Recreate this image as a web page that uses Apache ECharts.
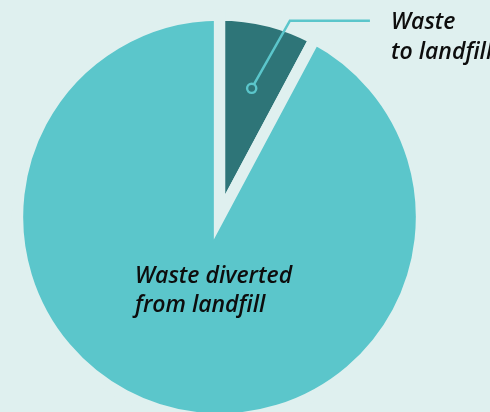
<!DOCTYPE html>
<html>
<head>
<meta charset="utf-8">
<script src="https://cdn.jsdelivr.net/npm/echarts@6/dist/echarts.min.js"></script>
<style>
  html, body { margin: 0; padding: 0; background: #dff0ef; }
  #chart { width: 490px; height: 412px; }
</style>
</head>
<body>
<div id="chart"></div>
<script>
// Share of waste by destination (%)
const categories = ['Waste to landfill', 'Waste diverted from landfill'];
const shares = [7.8, 92.2];
const labelLines = [['Waste', 'to landfill'], ['Waste diverted', 'from landfill']];
const sliceColors = ['#2e7578', '#5bc6cb'];

const BG = '#dff0ef';
const ACCENT = '#5bc6cb';
const GAP = 11.3;            // width of the separating gap between slices
const CX = 219.5, CY = 217;  // pie centre
const R_VISIBLE = 196.3;     // radius of the visible disc

const labelAnchors = [
  { x: 391, y: 8 },
  { x: 135, y: 261.5 }
];

const chart = echarts.init(document.getElementById('chart'), null, { renderer: 'canvas' });

chart.setOption({
  backgroundColor: BG,
  animation: false,
  series: [{
    type: 'pie',
    center: [CX, CY],
    radius: R_VISIBLE + GAP / 2,
    startAngle: 90,
    clockwise: true,
    avoidLabelOverlap: false,
    silent: true,
    data: categories.map((name, i) => ({
      name: name,
      value: shares[i],
      itemStyle: { color: sliceColors[i] }
    })),
    itemStyle: {
      borderColor: BG,
      borderWidth: GAP,
      borderJoin: 'miter',
      borderMiterLimit: 10
    },
    label: {
      show: true,
      position: 'inside',
      formatter: p => labelLines[p.dataIndex].join('\n'),
      fontFamily: 'Open Sans',
      fontStyle: 'italic',
      fontWeight: 600,
      fontSize: 23,
      lineHeight: 29.5,
      color: '#0d0d0d'
    },
    labelLine: { show: false },
    labelLayout: p => ({
      x: labelAnchors[p.dataIndex].x,
      y: labelAnchors[p.dataIndex].y,
      align: 'left',
      verticalAlign: 'top'
    })
  }]
});

// Leader line with a ring marker, placed at the mid-angle of the landfill slice
const layout = chart.getModel().getSeriesByIndex(0).getData().getItemLayout(0);
const mid = (layout.startAngle + layout.endAngle) / 2;
const markerR = 0.657 * layout.r;
const mx = layout.cx + markerR * Math.cos(mid);
const my = layout.cy + markerR * Math.sin(mid);
const elbowY = layout.cy - (layout.r - GAP / 2);
const elbowX = mx + (my - elbowY) * Math.tan(29.5 * Math.PI / 180);
const endX = elbowX + 80;

chart.setOption({
  graphic: [
    {
      type: 'polyline',
      silent: true,
      z: 10,
      shape: { points: [[mx, my], [elbowX, elbowY], [endX, elbowY]] },
      style: { stroke: ACCENT, lineWidth: 2.5, fill: null }
    },
    {
      type: 'circle',
      silent: true,
      z: 11,
      shape: { cx: mx, cy: my, r: 4.6 },
      style: { fill: sliceColors[0], stroke: ACCENT, lineWidth: 2.4 }
    }
  ]
});
</script>
</body>
</html>
